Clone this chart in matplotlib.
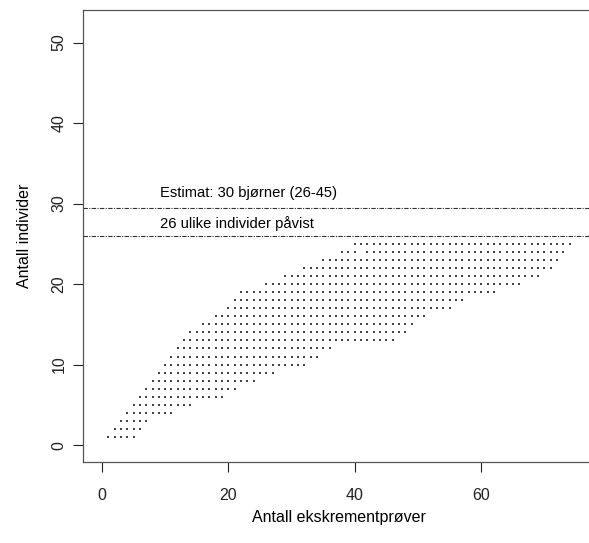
import matplotlib
matplotlib.use("Agg")
from matplotlib import pyplot as plt

# number of individuals (rows of dots) and the sample counts where each row starts/ends
rows = [1, 2, 3, 4, 5, 6, 7, 8, 9, 10, 11, 12, 13,
        14, 15, 16, 17, 18, 19, 20, 21, 22, 23, 24, 25]
row_start = [1, 2, 3, 4, 5, 6, 7, 8, 9, 10, 11, 12, 13,
             14, 16, 18, 20, 21, 22, 26, 29, 32, 35, 38, 40]
row_end = [5, 6, 7, 11, 14, 19, 21, 24, 27, 32, 34, 36, 46,
           48, 49, 51, 55, 57, 62, 66, 69, 71, 72, 73, 74]
# holes seen in the cloud (samples, individuals)
gaps = [(41, 24)]

estimate = 29.5
detected = 26
estimate_label = "Estimat: 30 bjørner (26-45)"
detected_label = "26 ulike individer påvist"

xs = []
ys = []
for r, a, b in zip(rows, row_start, row_end):
    for n in range(a, b + 1):
        if (n, r) in gaps:
            continue
        xs.append(n)
        ys.append(r)

plt.rcParams['font.family'] = ['Liberation Sans', 'DejaVu Sans']

fig = plt.figure(figsize=(5.89, 5.43), dpi=100)
ax = fig.add_axes([83/589, 81/543, (595-83)/589, (533.5-81)/543])

ax.scatter(xs, ys, s=2.6, marker='s', color='#444444', linewidths=0)

dash = (0, (4, 1.2, 1, 1.2))
ax.axhline(estimate, color='#333333', lw=0.8, linestyle=dash)
ax.axhline(detected, color='#333333', lw=0.8, linestyle=dash)
ax.text(9.2, estimate + 0.9, estimate_label, fontsize=10.6, va='bottom', ha='left')
ax.text(9.2, detected + 0.6, detected_label, fontsize=10.6, va='bottom', ha='left')

ax.set_xlim(-3, 78)
ax.set_ylim(-2.1, 54.1)
ax.set_xticks([0, 20, 40, 60])
ax.set_yticks([0, 10, 20, 30, 40, 50])
ax.tick_params(direction='out', length=7, width=0.8, labelsize=11.5, colors='#222222')
ax.tick_params(axis='x', pad=12)
ax.tick_params(axis='y', pad=5)
for lab in ax.get_yticklabels():
    lab.set_rotation(90)
    lab.set_va('center')
for sp in ax.spines.values():
    sp.set_color('#555555')
    sp.set_linewidth(0.9)

ax.set_xlabel("Antall ekskrementprøver", fontsize=11.5, labelpad=5)
ax.set_ylabel("Antall individer", fontsize=11.5, labelpad=14)

fig.savefig("out.png", dpi=100)
